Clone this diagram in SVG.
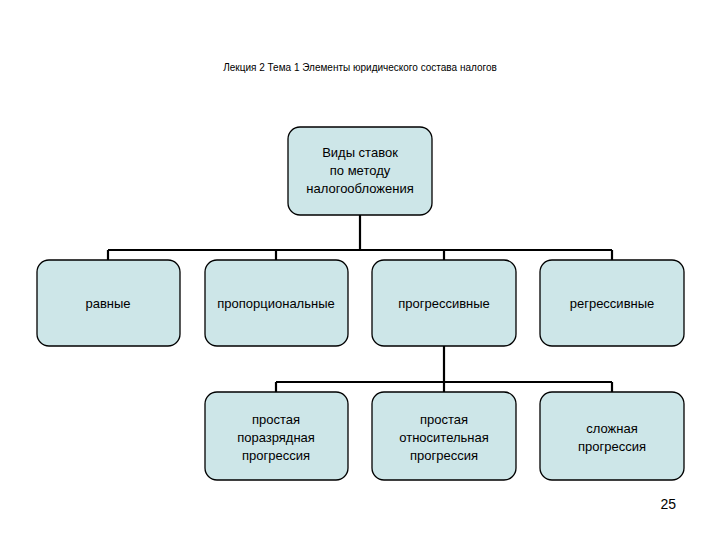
<svg xmlns="http://www.w3.org/2000/svg" width="720" height="540" viewBox="0 0 720 540">
<style>
.n{fill:#cde6e8;stroke:#000;stroke-width:1.3}
.t{font-family:"Liberation Sans",Arial,sans-serif;font-size:13px;text-anchor:middle;fill:#000}
.c{stroke:#000;stroke-width:2.2;fill:none}
</style>
<rect width="720" height="540" fill="#fff"/>
<text x="360" y="71" style="font-family:'Liberation Sans',Arial,sans-serif;font-size:10px;text-anchor:middle">Лекция 2 Тема 1 Элементы юридического состава налогов</text>
<g id="connectors">
<path class="c" d="M360 215V250M108 250H612M108 250V260M276 250V260M444 250V260M612 250V260M444 346V382M276 382H612M276 382V392M444 382V392M612 382V392"/>
</g>
<g id="root"><rect class="n" x="288" y="127" width="144" height="88" rx="12"/><text class="t" x="360" y="157">Виды ставок</text><text class="t" x="360" y="175">по методу</text><text class="t" x="360" y="193">налогообложения</text></g>
<g id="n1"><rect class="n" x="37" y="260" width="143" height="86" rx="12"/><text class="t" x="108" y="308">равные</text></g>
<g id="n2"><rect class="n" x="205" y="260" width="143" height="86" rx="12"/><text class="t" x="276" y="308">пропорциональные</text></g>
<g id="n3"><rect class="n" x="372" y="260" width="144" height="86" rx="12"/><text class="t" x="444" y="308">прогрессивные</text></g>
<g id="n4"><rect class="n" x="540" y="260" width="144" height="86" rx="12"/><text class="t" x="612" y="308">регрессивные</text></g>
<g id="n5"><rect class="n" x="205" y="392" width="143" height="88" rx="12"/><text class="t" x="276" y="424">простая</text><text class="t" x="276" y="442">поразрядная</text><text class="t" x="276" y="460">прогрессия</text></g>
<g id="n6"><rect class="n" x="372" y="392" width="144" height="88" rx="12"/><text class="t" x="444" y="424">простая</text><text class="t" x="444" y="442">относительная</text><text class="t" x="444" y="460">прогрессия</text></g>
<g id="n7"><rect class="n" x="540" y="392" width="144" height="88" rx="12"/><text class="t" x="612" y="433">сложная</text><text class="t" x="612" y="451">прогрессия</text></g>
<text x="676" y="509" style="font-family:'Liberation Sans',Arial,sans-serif;font-size:14px;text-anchor:end">25</text>
</svg>
